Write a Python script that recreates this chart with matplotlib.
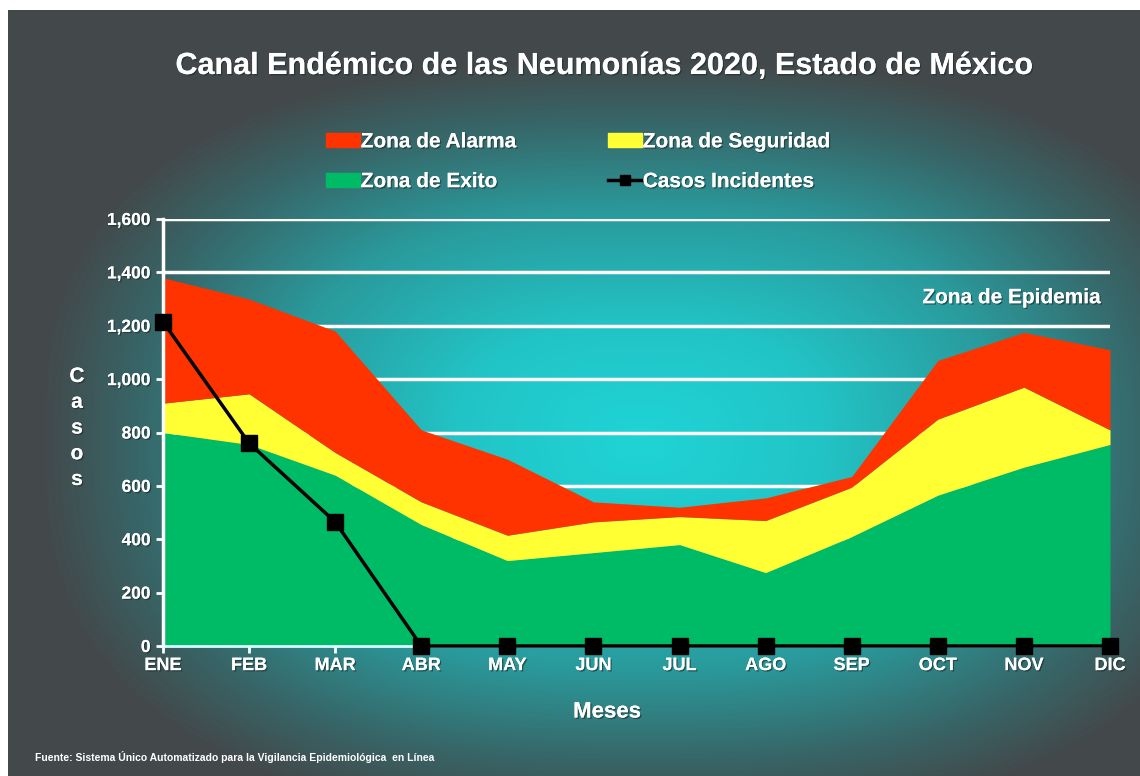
import numpy as np
import matplotlib
matplotlib.use('Agg')
import matplotlib.pyplot as plt
from matplotlib.colors import LinearSegmentedColormap
from matplotlib.patches import Patch
from matplotlib.lines import Line2D
from matplotlib.ticker import FuncFormatter
import matplotlib.patheffects as pe

plt.rcParams['font.family'] = ['Liberation Sans', 'DejaVu Sans']
plt.rcParams['font.weight'] = 'bold'

meses = ['ENE', 'FEB', 'MAR', 'ABR', 'MAY', 'JUN', 'JUL', 'AGO', 'SEP', 'OCT', 'NOV', 'DIC']
# upper limits of each zone (casos)
exito = [800, 755, 640, 455, 320, 350, 380, 275, 410, 565, 670, 755]
seguridad = [910, 945, 725, 540, 415, 465, 485, 470, 595, 850, 970, 810]
alarma = [1380, 1300, 1180, 810, 700, 540, 520, 555, 635, 1070, 1175, 1110]
casos = [1215, 760, 465, 0, 0, 0, 0, 0, 0, 0, 0, 0]

W, H = 1140, 776
fig = plt.figure(figsize=(W / 100, H / 100), dpi=100, facecolor='white')

# background panel, squarish path gradient
bg = fig.add_axes([8 / W, 0, 1 - 8 / W, 766 / H])
bg.set_axis_off()
yy, xx = np.mgrid[0:766, 8:W]
p = 2.6
d = (np.abs((xx - 640) / 600.0) ** p + np.abs((yy - 430) / 380.0) ** p) ** (1 / p)
cmap = LinearSegmentedColormap.from_list('bg', [(0, '#1fd4d6'), (0.3, '#22c4c6'),
                                                (0.6, '#2a9a9c'), (0.85, '#386466'),
                                                (1, '#43494b')])
bg.imshow(np.clip(d, 0, 1), cmap=cmap, vmin=0, vmax=1, aspect='auto', interpolation='bilinear')

ax = fig.add_axes([163 / W, (H - 646) / H, (1110 - 163) / W, (646 - 219) / H])
ax.set_facecolor('none')
x = np.arange(len(meses))

ax.fill_between(x, 0, exito, color='#00bb66', lw=0, zorder=2)
ax.fill_between(x, exito, seguridad, color='#ffff33', lw=0, zorder=2)
ax.fill_between(x, seguridad, alarma, color='#ff3300', lw=0, zorder=2)
ax.plot(x, casos, color='black', lw=2.5, marker='s', markersize=12, zorder=4, clip_on=False)

ax.set_xlim(0, 11)
ax.set_ylim(0, 1600)
ax.set_yticks(range(0, 1601, 200))
ax.yaxis.set_major_formatter(FuncFormatter(lambda v, p: f'{int(v):,}'))
ax.set_xticks(x)
ax.set_xticklabels(meses)
ax.grid(axis='y', color='white', lw=2.5, zorder=1)
ax.set_axisbelow(True)
for s in ['top', 'right']:
    ax.spines[s].set_visible(False)
ax.spines['left'].set_color('white')
ax.spines['left'].set_linewidth(2.5)
ax.spines['bottom'].set_color('#d8ffff')
ax.spines['bottom'].set_linewidth(2)
ax.tick_params(colors='white', labelsize=12.5, length=5, width=2, pad=4)
ax.tick_params(axis='x', labelsize=13, pad=3)
shadow = [pe.withSimplePatchShadow(offset=(1, -1), shadow_rgbFace='#1a2a2a', alpha=0.6), pe.Normal()]
for lab in ax.get_xticklabels() + ax.get_yticklabels():
    lab.set_fontweight('bold')
    lab.set_path_effects(shadow)

fig.text(604 / W, 1 - 66 / H, 'Canal Endémico de las Neumonías 2020, Estado de México',
         color='white', fontsize=22, fontweight='bold', ha='center', va='center', path_effects=shadow)
ax.text(10.9, 1305, 'Zona de Epidemia', color='white',
        fontsize=15, fontweight='bold', ha='right', va='center', path_effects=shadow)
fig.text(607 / W, 1 - 712 / H, 'Meses', color='white', fontsize=16, fontweight='bold',
         ha='center', va='center', path_effects=shadow)
fig.text(77 / W, 1 - 428 / H, 'C\na\ns\no\ns', color='white', fontsize=15, fontweight='bold',
         ha='center', va='center', linespacing=1.45, path_effects=shadow)
fig.text(35 / W, 1 - 757 / H,
         'Fuente: Sistema Único Automatizado para la Vigilancia Epidemiológica  en Línea',
         color='white', fontsize=7.5, fontweight='bold', ha='left', va='center')

handles = [Patch(color='#ff3300'), Patch(color='#00bb66'), Patch(color='#ffff33'),
           Line2D([], [], color='black', lw=2.5, marker='s', markersize=7)]
labels = ['Zona de Alarma', 'Zona de Exito', 'Zona de Seguridad', 'Casos Incidentes']
leg = fig.legend(handles, labels, ncol=2, loc='upper left', bbox_to_anchor=(318 / W, 1 - 124 / H),
                 frameon=False, fontsize=15, handlelength=1.6, handleheight=0.7,
                 handletextpad=0.05, columnspacing=4.4, labelspacing=1.0, borderaxespad=0)
for t in leg.get_texts():
    t.set_color('white')
    t.set_fontweight('bold')
    t.set_path_effects(shadow)

fig.savefig('out.png', dpi=100, facecolor='white')
